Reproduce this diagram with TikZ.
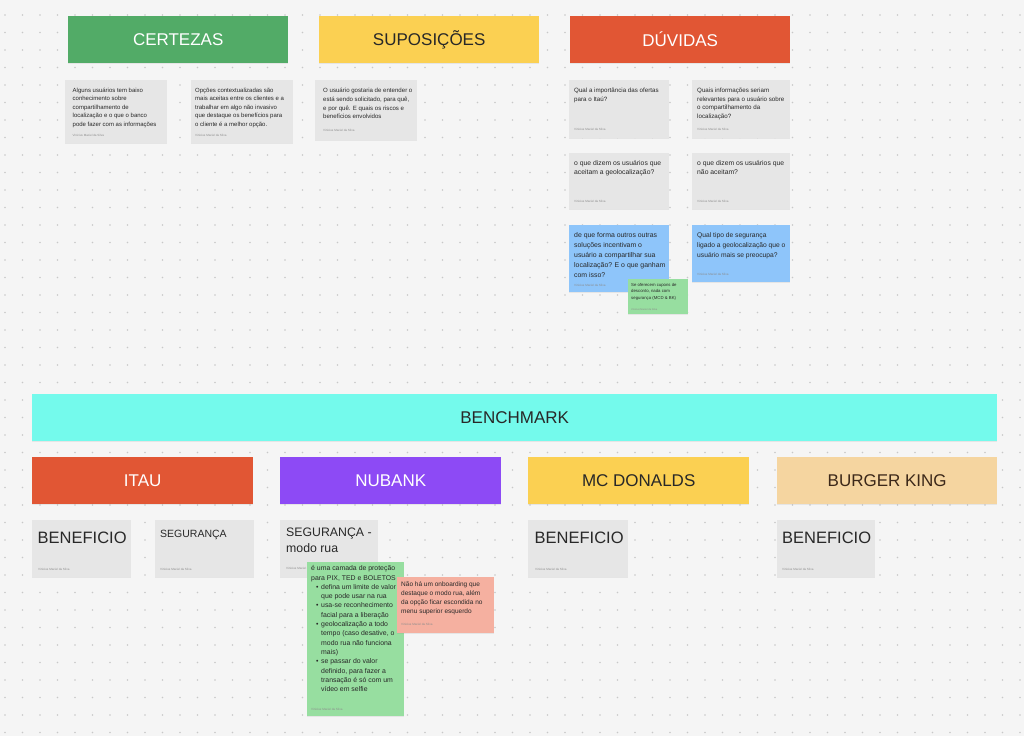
\documentclass[tikz,border=0pt]{standalone}
\usepackage{fontspec}
\setmainfont{Liberation Sans}
\usetikzlibrary{shadows}
\definecolor{bg}{RGB}{245,245,245}
\definecolor{dotc}{RGB}{200,200,200}
\definecolor{cgreen}{RGB}{82,171,103}
\definecolor{cyellow}{RGB}{251,208,82}
\definecolor{cred}{RGB}{225,86,52}
\definecolor{ccyan}{RGB}{116,250,236}
\definecolor{cpurple}{RGB}{141,74,245}
\definecolor{ctan}{RGB}{245,213,160}
\definecolor{notegray}{RGB}{230,230,230}
\definecolor{nblue}{RGB}{142,197,250}
\definecolor{ngreen}{RGB}{151,222,160}
\definecolor{npink}{RGB}{245,176,160}
\definecolor{txt}{RGB}{40,40,40}
\definecolor{bktxt}{RGB}{60,40,25}
\begin{document}
\begin{tikzpicture}[x=1pt,y=-1pt,
  shd/.style={drop shadow={shadow xshift=0pt,shadow yshift=-1.2pt,opacity=0.13}},
  hdr/.style={shd,anchor=north west,minimum height=47pt,inner sep=0pt,font=\fontsize{17}{20}\selectfont},
  note/.style={shd,anchor=north west,fill=notegray,inner sep=0pt},
  body/.style={anchor=north west,align=left,inner sep=0pt,text=txt},
  auth/.style={anchor=base west,inner sep=0pt,font=\fontsize{3}{3}\selectfont,text=black!45},
  big/.style={anchor=base west,inner sep=0pt,text=txt}]
\useasboundingbox[fill=bg] (0,0) rectangle (1024,736);
\foreach \i in {0,...,58}{\foreach \j in {0,...,41}{\fill[dotc] (5+17.5*\i,15+17.5*\j) circle[radius=0.9pt];}}

% ---------- top headers
\node[hdr,fill=cgreen,text=white,minimum width=220pt] (certezas) at (68,16) {CERTEZAS};
\node[hdr,fill=cyellow,text=txt,minimum width=220pt] (suposicoes) at (319,16) {SUPOSIÇÕES};
\node[hdr,fill=cred,text=white,minimum width=220pt] (duvidas) at (570,16) {DÚVIDAS};

% ---------- certezas notes
\node[note,minimum width=102pt,minimum height=63pt] (c1) at (65,80) {};
\node[body,font=\fontsize{6}{8.6}\selectfont] (c1t) at (72.5,87.5) {Alguns usuários tem baixo\\conhecimento sobre\\compartilhamento de\\localização e o que o banco\\pode fazer com as informações};
\node[auth] (c1a) at (72.5,136) {Vinicius Maciel da Silva};
\node[note,minimum width=102pt,minimum height=63pt] (c2) at (191,80) {};
\node[body,font=\fontsize{6}{8.6}\selectfont] (c2t) at (195,87.5) {Opções contextualizadas são\\mais aceitas entre os clientes e a\\trabalhar em algo não invasivo\\que destaque os benefícios para\\o cliente é a melhor opção.};
\node[auth] (c2a) at (195,136) {Vinicius Maciel da Silva};

% ---------- suposicoes note
\node[note,minimum width=102pt,minimum height=60pt] (s1) at (315,80) {};
\node[body,font=\fontsize{6.1}{8.7}\selectfont] (s1t) at (323,88) {O usuário gostaria de entender o\\está sendo solicitado, para quê,\\e por quê. E quais os riscos e\\benefícios envolvidos};
\node[auth] (s1a) at (323,131) {Vinicius Maciel da Silva};

% ---------- duvidas notes
\node[note,minimum width=100pt,minimum height=58pt] (d1) at (569,80) {};
\node[body,font=\fontsize{6.2}{8.9}\selectfont] (d1t) at (574,87.5) {Qual a importância das ofertas\\para o Itaú?};
\node[auth] (d1a) at (574,130) {Vinicius Maciel da Silva};
\node[note,minimum width=98pt,minimum height=58pt] (d2) at (692,80) {};
\node[body,font=\fontsize{6.2}{8.9}\selectfont] (d2t) at (697,87.5) {Quais informações seriam\\relevantes para o usuário sobre\\o compartilhamento da\\localização?};
\node[auth] (d2a) at (697,130) {Vinicius Maciel da Silva};
\node[note,minimum width=100pt,minimum height=56pt] (d3) at (569,153) {};
\node[body,font=\fontsize{6.8}{9.7}\selectfont] (d3t) at (574,160) {o que dizem os usuários que\\aceitam a geolocalização?};
\node[auth] (d3a) at (574,202) {Vinicius Maciel da Silva};
\node[note,minimum width=98pt,minimum height=56pt] (d4) at (692,153) {};
\node[body,font=\fontsize{6.8}{9.7}\selectfont] (d4t) at (697,160) {o que dizem os usuários que\\não aceitam?};
\node[auth] (d4a) at (697,202) {Vinicius Maciel da Silva};
\node[note,fill=nblue,minimum width=100pt,minimum height=67pt] (d5) at (569,225) {};
\node[body,font=\fontsize{6.9}{10}\selectfont] (d5t) at (574,232.5) {de que forma outros outras\\soluções incentivam o\\usuário a compartilhar sua\\localização? E o que ganham\\com isso?};
\node[auth] (d5a) at (574,286) {Vinicius Maciel da Silva};
\node[note,fill=nblue,minimum width=98pt,minimum height=57pt] (d6) at (692,225) {};
\node[body,font=\fontsize{6.7}{10}\selectfont] (d6t) at (697,232.5) {Qual tipo de segurança\\ligado a geolocalização que o\\usuário mais se preocupa?};
\node[auth] (d6a) at (697,275) {Vinicius Maciel da Silva};
\node[note,fill=ngreen,minimum width=60pt,minimum height=35pt] (d7) at (628,279) {};
\node[body,font=\fontsize{4.3}{6.5}\selectfont] (d7t) at (631,283) {Se oferecem cupons de\\desconto, nada com\\segurança (MCD \& BK)};
\node[auth,font=\fontsize{2.5}{3}\selectfont] (d7a) at (631,310) {Vinicius Maciel da Silva};

% ---------- benchmark
\node[hdr,fill=ccyan,text=txt,minimum width=965pt] (bench) at (32,394) {BENCHMARK};
\node[hdr,fill=cred,text=white,minimum width=221pt] (itau) at (32,457) {ITAU};
\node[hdr,fill=cpurple,text=white,minimum width=221pt] (nubank) at (280,457) {NUBANK};
\node[hdr,fill=cyellow,text=txt,minimum width=221pt] (mcd) at (528,457) {MC DONALDS};
\node[hdr,fill=ctan,text=bktxt,minimum width=220pt] (bk) at (777,457) {BURGER KING};

% ---------- benchmark notes
\node[note,minimum width=99pt,minimum height=57pt] (b1) at (32,520) {};
\node[big,font=\fontsize{16.5}{18}\selectfont] (b1t) at (37.5,543.5) {BENEFICIO};
\node[auth] (b1a) at (38,570) {Vinicius Maciel da Silva};
\node[note,minimum width=99pt,minimum height=57pt] (b2) at (155,520) {};
\node[big,font=\fontsize{10.5}{12}\selectfont] (b2t) at (160,537) {SEGURANÇA};
\node[auth] (b2a) at (160,570) {Vinicius Maciel da Silva};
\node[note,minimum width=98pt,minimum height=57pt] (b3) at (280,520) {};
\node[body,font=\fontsize{12.3}{15.5}\selectfont] (b3t) at (286,528) {SEGURANÇA -\\modo rua};
\begin{scope}
\clip (280,560) rectangle (306,575);
\node[auth] (b3a) at (286,569) {\makebox[19pt][l]{Vinicius Maciel da Silva}};
\end{scope}
\node[note,minimum width=100pt,minimum height=57pt] (b4) at (528,520) {};
\node[big,font=\fontsize{16.5}{18}\selectfont] (b4t) at (534.5,543.5) {BENEFICIO};
\node[auth] (b4a) at (535,570) {Vinicius Maciel da Silva};
\node[note,minimum width=98pt,minimum height=57pt] (b5) at (777,520) {};
\node[big,font=\fontsize{16.5}{18}\selectfont] (b5t) at (782,543.5) {BENEFICIO};
\node[auth] (b5a) at (782,570) {Vinicius Maciel da Silva};

% ---------- nubank stickies
\node[note,fill=ngreen,minimum width=97pt,minimum height=154pt] (g1) at (307,562) {};
\node[body,font=\fontsize{6.9}{9.3}\selectfont] (g1t) at (311,565.5) {é uma camada de proteção\\para PIX, TED e BOLETOS\\
\hspace*{5pt}\makebox[5pt][l]{\textbullet}defina um limite de valor\\
\hspace*{10pt}que pode usar na rua\\
\hspace*{5pt}\makebox[5pt][l]{\textbullet}usa-se reconhecimento\\
\hspace*{10pt}facial para a liberação\\
\hspace*{5pt}\makebox[5pt][l]{\textbullet}geolocalização a todo\\
\hspace*{10pt}tempo (caso desative, o\\
\hspace*{10pt}modo rua não funciona\\
\hspace*{10pt}mais)\\
\hspace*{5pt}\makebox[5pt][l]{\textbullet}se passar do valor\\
\hspace*{10pt}definido, para fazer a\\
\hspace*{10pt}transação é só com um\\
\hspace*{10pt}vídeo em selfie};
\node[auth] (g1a) at (311,710) {Vinicius Maciel da Silva};
\node[note,fill=npink,minimum width=97pt,minimum height=56pt] (p1) at (397,577) {};
\node[body,font=\fontsize{6.5}{9}\selectfont] (p1t) at (401,582) {Não há um onboarding que\\destaque o modo rua, além\\da opção ficar escondida no\\menu superior esquerdo};
\node[auth] (p1a) at (401,625) {Vinicius Maciel da Silva};
\end{tikzpicture}
\end{document}
